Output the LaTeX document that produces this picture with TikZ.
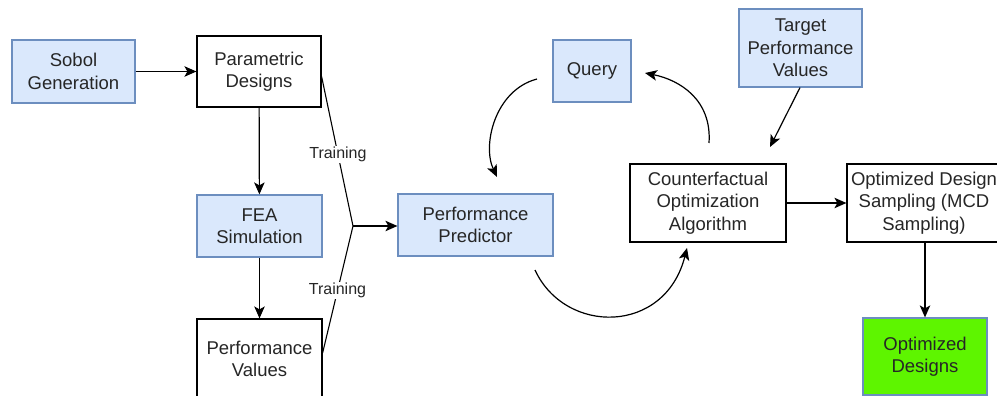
\documentclass[tikz,border=0pt]{standalone}
\usepackage{fontspec}
\setmainfont{Liberation Sans}
\usetikzlibrary{arrows.meta,calc}
\definecolor{bfill}{HTML}{DAE8FC}
\definecolor{bdraw}{HTML}{6C8EBF}
\definecolor{gfill}{HTML}{5EF500}
\definecolor{txt}{HTML}{262626}
\tikzset{
  box/.style={draw=black, line width=1.2pt, fill=white, align=center, text=txt,
    font=\fontsize{18.5}{22.5}\selectfont, inner sep=0pt},
  bbox/.style={box, draw=bdraw, fill=bfill},
  gbox/.style={box, draw=bdraw, fill=gfill},
  arr/.style={line width=1.2pt, -{Stealth[length=12pt,width=10.5pt,inset=3pt]}},
  ln/.style={line width=1.1pt},
  lab/.style={fill=white, text=txt, font=\fontsize{16}{19}\selectfont, inner sep=1pt}
}
\begin{document}
\begin{tikzpicture}[x=1pt,y=-1pt]
\useasboundingbox (0,0) rectangle (997,396);
\fill[white] (0,0) rectangle (997,396);

\node[bbox, minimum width=123pt, minimum height=63pt] (sobol) at (73.5,71.5) {Sobol\\Generation};
\node[box, minimum width=124pt, minimum height=71pt] (param) at (259,71.5) {Parametric\\Designs};
\node[bbox, minimum width=125pt, minimum height=62pt] (fea) at (259.5,226) {FEA\\Simulation};
\node[box, minimum width=125pt, minimum height=80pt] (perf) at (259.5,359) {Performance\\Values};
\node[bbox, minimum width=155pt, minimum height=62pt] (pred) at (475.5,225) {Performance\\Predictor};
\node[bbox, minimum width=78pt, minimum height=62pt] (query) at (592,71) {Query};
\node[bbox, minimum width=123pt, minimum height=78pt] (target) at (800.5,48) {Target\\Performance\\Values};
\node[box, minimum width=156pt, minimum height=78pt] (cf) at (708,203) {Counterfactual\\Optimization\\Algorithm};
\node[box, minimum width=154pt, minimum height=78pt] (ods) at (924,203) {Optimized Design\\Sampling (MCD\\Sampling)};
\node[gbox, minimum width=124pt, minimum height=77pt] (od) at (925,356.5) {Optimized\\Designs};

\coordinate (j) at (353,226);
\coordinate (q1) at (537,79);
\coordinate (q2) at (497,177);
\coordinate (c1) at (709,143);
\coordinate (c2) at (645,73);
\coordinate (p1) at (535,270);
\coordinate (p2) at (687,248);
\coordinate (t2) at (770,147);

\draw[arr] (sobol) -- (param);
\draw[arr] (param) -- (fea);
\draw[arr] (fea) -- (perf);
\draw[ln] ([yshift=-5pt]param.east) -- node[lab, pos=0.52] {Training} (j);
\draw[ln] ([yshift=6pt]perf.east) -- node[lab, pos=0.49] {Training} (j);
\draw[arr] (j) -- (pred.west |- j);
\draw[arr] (q1) .. controls (495,90) and (482,145) .. (q2);
\draw[arr] (c1) .. controls (712,100) and (680,80) .. (c2);
\draw[arr] (p1) .. controls (565,335) and (665,335) .. (p2);
\draw[arr] ([xshift=-0.5pt]target.south) -- (t2);
\draw[arr] (cf) -- (ods);
\draw[arr] (ods.south -| od.north) -- (od.north);
\end{tikzpicture}
\end{document}
